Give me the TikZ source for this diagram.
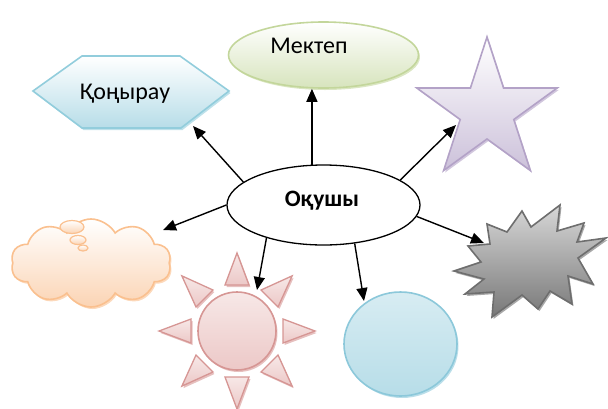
\documentclass[tikz,border=0pt]{standalone}
\usepackage{fontspec}
\setmainfont{Carlito}
\usetikzlibrary{shapes.geometric,shapes.symbols,arrows.meta,shadows}
\definecolor{hexFill}{RGB}{183,221,232}
\definecolor{hexDraw}{RGB}{146,205,220}
\definecolor{mekFill}{RGB}{215,228,189}
\definecolor{mekDraw}{RGB}{195,214,155}
\definecolor{starFill}{RGB}{204,193,218}
\definecolor{starDraw}{RGB}{179,162,199}
\definecolor{cloudFill}{RGB}{251,212,180}
\definecolor{cloudDraw}{RGB}{250,192,143}
\definecolor{sunTop}{RGB}{247,232,231}
\definecolor{sunFill}{RGB}{236,200,199}
\definecolor{sunDraw}{RGB}{214,150,148}
\definecolor{circFill}{RGB}{183,221,232}
\definecolor{circDraw}{RGB}{140,200,218}
\definecolor{boomLight}{RGB}{215,215,215}
\definecolor{boomDark}{RGB}{120,120,120}
\definecolor{boomDraw}{RGB}{110,110,110}
\begin{document}
\begin{tikzpicture}[x=1pt,y=-1pt,
  shd/.style={drop shadow={shadow xshift=1.5pt,shadow yshift=-2pt,fill=#1,opacity=0.6}},
  hexsty/.style={draw=hexDraw,line width=1.6pt,top color=white,bottom color=hexFill,shd=hexDraw},
  meksty/.style={ellipse,draw=mekDraw,line width=1.6pt,top color=white,bottom color=mekFill,shd=mekDraw,minimum width=190pt,minimum height=66pt,inner sep=0pt},
  starsty/.style={star,star points=5,star point ratio=2.618,draw=starDraw,line width=1.6pt,top color=white,bottom color=starFill,shd=starDraw,minimum size=147.6pt,inner sep=0pt},
  cloudsty/.style={draw=cloudDraw,line width=1.6pt,top color=white,bottom color=cloudFill,shd=cloudDraw},
  bubsty/.style={ellipse,draw=cloudDraw,line width=1.2pt,top color=white,bottom color=cloudFill,inner sep=0pt},
  sunsty/.style={draw=sunDraw,line width=1.6pt,top color=sunTop,bottom color=sunFill,shd=sunDraw},
  circsty/.style={ellipse,draw=circDraw,line width=1.6pt,shading angle=135,top color=white!45!circFill,bottom color=circFill,shd=circDraw,minimum width=113pt,minimum height=104pt,inner sep=0pt},
  boomsty/.style={draw=boomDraw,line width=1.6pt,shading angle=-120,top color=boomLight,bottom color=boomDark,shd=boomDraw},
  mainsty/.style={ellipse,draw=black,line width=1.3pt,fill=white,minimum width=193pt,minimum height=80pt,inner sep=0pt},
  lbl/.style={font=\fontsize{24}{28}\selectfont,anchor=base},
  arr/.style={draw=black,line width=1.4pt,-{Triangle[length=13pt,width=11pt]}}]
\useasboundingbox (0,0) rectangle (608,408);

% hexagon
\draw[hexsty] (33,91) -- (82,56) -- (180,56) -- (229,91) -- (181,128) -- (82,128) -- cycle;
\node[lbl] (hexT) at (125,99) {Қоңырау};

% Mektep ellipse
\node[meksty] (mek) at (323.5,55) {};
\node[lbl] (mekT) at (309,53.3) {Мектеп};

% star
\node[starsty] (star) at (487,110.8) {};

% cloud
\node[cloud,cloud puffs=10,cloud puff arc=120,aspect=1.8,minimum width=160pt,minimum height=88pt,inner sep=0pt,cloudsty] (cloud) at (91,263) {};
\node[bubsty,minimum width=24pt,minimum height=13pt] (b1) at (72,227) {};
\node[bubsty,minimum width=16pt,minimum height=9pt] (b2) at (78,240) {};
\node[bubsty,minimum width=10pt,minimum height=6pt] (b3) at (83,248) {};

% sun
\foreach \a in {0,45,...,315}{
  \begin{scope}[shift={(237,331)},rotate=\a]
    \draw[sunsty,line width=1.3pt] (78,0) -- (46,12) -- (46,-12) -- cycle;
  \end{scope}
}
\node[circle,minimum size=78pt,inner sep=0pt,sunsty] (sun) at (237,331) {};

% blue circle
\node[circsty] (circ) at (400.5,344) {};

% explosion
\draw[boomsty] (454,271) -- (481,262) -- (468,246) -- (490,244) -- (487,224) -- (507,232)
  -- (522,211) -- (531,227) -- (560,205) -- (557,231) -- (584,223) -- (577,242)
  -- (606,238) -- (578,258) -- (593,284) -- (568,276) -- (572,304) -- (550,291)
  -- (538,309) -- (522,295) -- (492,317) -- (494,292) -- (465,294) -- (484,279) -- cycle;
\coordinate (boom) at (484,243);

% center ellipse
\node[mainsty] (ell) at (323.5,205) {};
\node[lbl,font=\fontsize{23.5}{27}\selectfont\bfseries] (ellT) at (322,206.7) {Оқушы};

% arrow end points
\coordinate (tHex) at (193,126);
\coordinate (tStar) at (456,125);
\coordinate (tCloud) at (163,230);
\coordinate (tSun) at (257,290);
\coordinate (tCirc) at (364,301);

\draw[arr] (ell.164.7) -- (tHex);
\draw[arr] (ell.106) -- (ell.106 |- mek.south);
\draw[arr] (ell.18.3) -- (tStar);
\draw[arr] (ell.180.6) -- (tCloud);
\draw[arr] (ell.210.9) -- (tSun);
\draw[arr] (ell.309.5) -- (tCirc);
\draw[arr] (ell.353.2) -- (boom);
\end{tikzpicture}
\end{document}
